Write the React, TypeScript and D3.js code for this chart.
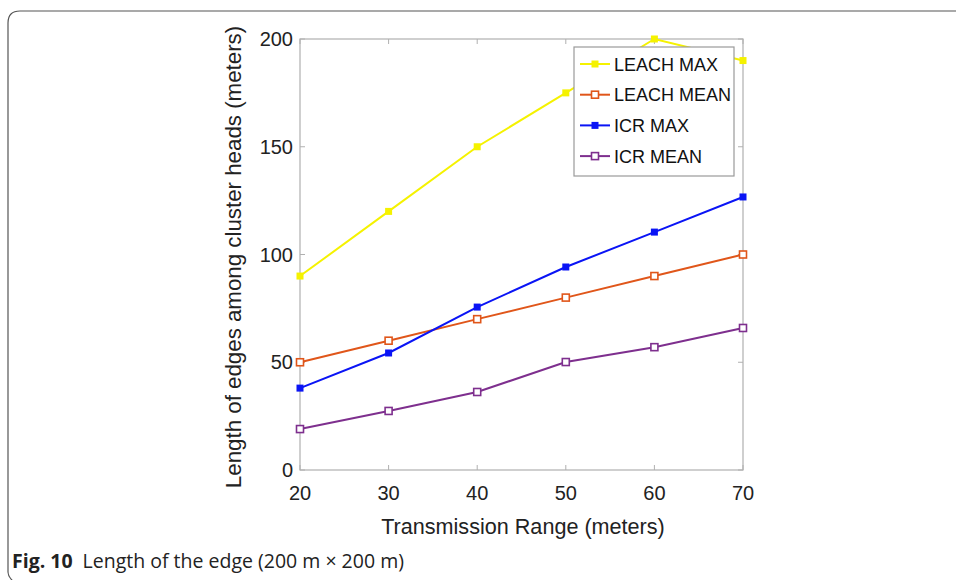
import React from "react";
import * as d3 from "d3";

const xValues = [20, 30, 40, 50, 60, 70];
const leachMax = [90, 120, 150, 175, 200, 190];
const leachMean = [50, 60, 70, 80, 90, 100];
const icrMax = [38, 54.3, 75.6, 94.2, 110.4, 126.7];
const icrMean = [19, 27.4, 36.2, 50.1, 57, 65.9];
const xTicks = [20, 30, 40, 50, 60, 70];
const yTicks = [0, 50, 100, 150, 200];

const seriesList = [
  { name: "LEACH MAX", values: leachMax, color: "#f5f200", filled: true },
  { name: "LEACH MEAN", values: leachMean, color: "#e0561a", filled: false },
  { name: "ICR MAX", values: icrMax, color: "#0a14f5", filled: true },
  { name: "ICR MEAN", values: icrMean, color: "#7e2f8e", filled: false },
];

export default function App() {
  const W = 956, H = 580;
  const left = 300, right = 743, top = 39, bottom = 470;
  const x = d3.scaleLinear().domain([20, 70]).range([left, right]);
  const y = d3.scaleLinear().domain([0, 200]).range([bottom, top]);
  const line = d3.line<number>().x((_, i) => x(xValues[i])).y((d) => y(d));
  const axisColor = "#b0b0b0";
  const font = "'Liberation Sans', Arial, sans-serif";
  const r = 12;
  const framePath = `M ${W + 5} 11 L ${8 + r} 11 Q 8 11 8 ${11 + r} L 8 ${H - 8} Q 8 ${H - 3} 14 ${H + 2}`;
  const legX = 574, legY = 47, legW = 160, legH = 129;

  return (
    <svg width={W} height={H} style={{ position: "absolute", left: 0, top: 0 }}>
      <rect x={0} y={0} width={W} height={H} fill="#fff" />
      <path d={framePath} fill="none" stroke="#555" strokeWidth={1.2} />
      {/* axes box */}
      <rect x={left} y={top} width={right - left} height={bottom - top} fill="none" stroke={axisColor} strokeWidth={1.2} />
      {xTicks.map((t) => (
        <g key={"xt" + t}>
          <line x1={x(t)} x2={x(t)} y1={bottom} y2={bottom - 5} stroke={axisColor} />
          <line x1={x(t)} x2={x(t)} y1={top} y2={top + 5} stroke={axisColor} />
          <text x={x(t)} y={bottom + 30} textAnchor="middle" fontFamily={font} fontSize={20} fill="#222">
            {t}
          </text>
        </g>
      ))}
      {yTicks.map((t) => (
        <g key={"yt" + t}>
          <line x1={left} x2={left + 5} y1={y(t)} y2={y(t)} stroke={axisColor} />
          <line x1={right} x2={right - 5} y1={y(t)} y2={y(t)} stroke={axisColor} />
          <text x={left - 7} y={y(t) + 7} textAnchor="end" fontFamily={font} fontSize={20} fill="#222">
            {t}
          </text>
        </g>
      ))}
      <text x={523} y={534} textAnchor="middle" fontFamily={font} fontSize={21.6} fill="#222">
        Transmission Range (meters)
      </text>
      <text
        transform={`translate(241, 257) rotate(-90)`}
        textAnchor="middle"
        fontFamily={font}
        fontSize={22.3}
        fill="#222"
      >
        Length of edges among cluster heads (meters)
      </text>
      {seriesList.map((s) => (
        <g key={s.name}>
          <path d={line(s.values) || ""} fill="none" stroke={s.color} strokeWidth={2} />
          {s.values.map((v, i) => (
            <rect
              key={i}
              x={x(xValues[i]) - 3.5}
              y={y(v) - 3.5}
              width={7}
              height={7}
              fill={s.filled ? s.color : "#fff"}
              stroke={s.color}
              strokeWidth={s.filled ? 0 : 1.6}
            />
          ))}
        </g>
      ))}
      {/* legend */}
      <rect x={legX} y={legY} width={legW} height={legH} fill="#fff" stroke="#9a9a9a" strokeWidth={1.2} />
      {seriesList.map((s, i) => {
        const ly = legY + 17 + i * 30.7;
        return (
          <g key={"leg" + s.name}>
            <line x1={legX + 6} x2={legX + 36} y1={ly} y2={ly} stroke={s.color} strokeWidth={2} />
            <rect
              x={legX + 21 - 3.5}
              y={ly - 3.5}
              width={7}
              height={7}
              fill={s.filled ? s.color : "#fff"}
              stroke={s.color}
              strokeWidth={s.filled ? 0 : 1.6}
            />
            <text x={legX + 40} y={ly + 6.5} fontFamily={font} fontSize={18} fill="#111">
              {s.name}
            </text>
          </g>
        );
      })}
      {/* caption */}
      <text x={12} y={568} fontFamily="'Open Sans', 'Noto Sans', sans-serif" fontSize={19.5} fill="#222">
        <tspan fontWeight="bold">Fig. 10</tspan>
        <tspan dx={10}>Length of the edge (200 m × 200 m)</tspan>
      </text>
    </svg>
  );
}
